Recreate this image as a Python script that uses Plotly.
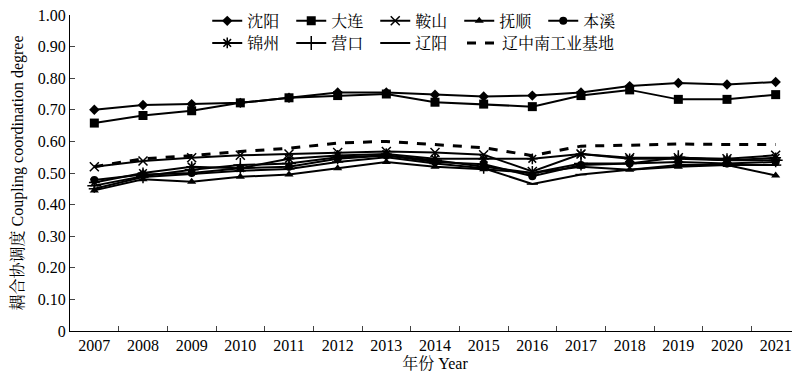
import plotly.graph_objects as go

years = [str(y) for y in range(2007, 2022)]

shenyang = [0.700, 0.715, 0.718, 0.722, 0.738, 0.755, 0.755, 0.748, 0.742, 0.745, 0.755, 0.775, 0.785, 0.780, 0.788]
dalian   = [0.658, 0.682, 0.697, 0.722, 0.738, 0.745, 0.750, 0.724, 0.718, 0.710, 0.745, 0.763, 0.733, 0.733, 0.748]
anshan   = [0.520, 0.538, 0.548, 0.556, 0.560, 0.565, 0.568, 0.565, 0.558, 0.505, 0.560, 0.548, 0.548, 0.545, 0.556]
fushun   = [0.445, 0.480, 0.472, 0.488, 0.495, 0.515, 0.535, 0.520, 0.512, 0.500, 0.520, 0.510, 0.520, 0.525, 0.492]
benxi    = [0.478, 0.495, 0.500, 0.515, 0.520, 0.545, 0.555, 0.535, 0.528, 0.490, 0.525, 0.530, 0.535, 0.530, 0.535]
jinzhou  = [0.470, 0.500, 0.520, 0.515, 0.545, 0.555, 0.560, 0.545, 0.545, 0.545, 0.560, 0.545, 0.545, 0.540, 0.548]
yingkou  = [0.460, 0.490, 0.510, 0.525, 0.530, 0.550, 0.555, 0.540, 0.520, 0.500, 0.530, 0.530, 0.550, 0.540, 0.540]
liaoyang = [0.450, 0.487, 0.497, 0.507, 0.513, 0.535, 0.550, 0.530, 0.515, 0.465, 0.495, 0.510, 0.525, 0.525, 0.525]
region   = [0.520, 0.545, 0.555, 0.568, 0.578, 0.595, 0.600, 0.590, 0.580, 0.555, 0.585, 0.588, 0.592, 0.590, 0.590]

ytickvals = [0, 0.1, 0.2, 0.3, 0.4, 0.5, 0.6, 0.7, 0.8, 0.9, 1.0]
yticktext = ["0", "0.10", "0.20", "0.30", "0.40", "0.50", "0.60", "0.70", "0.80", "0.90", "1.00"]

FONT = "Liberation Serif, Times New Roman, Noto Serif CJK SC, Noto Sans CJK SC, serif"

series = [
    ("沈阳", shenyang, dict(symbol="diamond", size=8, color="black"), "solid", "legend"),
    ("大连", dalian, dict(symbol="square", size=9, color="black"), "solid", "legend"),
    ("鞍山", anshan, dict(symbol="x-thin", size=9, color="black", line=dict(width=1.5, color="black")), "solid", "legend"),
    ("抚顺", fushun, dict(symbol="triangle-up", size=8, color="black"), "solid", "legend"),
    ("本溪", benxi, dict(symbol="circle", size=8, color="black"), "solid", "legend"),
    ("锦州", jinzhou, dict(symbol="asterisk", size=9, color="black", line=dict(width=1.5, color="black")), "solid", "legend2"),
    ("营口", yingkou, dict(symbol="cross-thin", size=10, color="black", line=dict(width=1.5, color="black")), "solid", "legend2"),
    ("辽阳", liaoyang, dict(symbol="line-ew", size=8, color="black", line=dict(width=1.5, color="black")), "solid", "legend2"),
    ("辽中南工业基地", region, dict(symbol="circle", size=1, color="black", opacity=0), "dash", "legend3"),
]

fig = go.Figure()
for name, vals, mk, dash, lg in series:
    mode = "lines" if dash == "dash" else "lines+markers"
    fig.add_trace(go.Scatter(
        x=years, y=vals, name=name, mode=mode,
        line=dict(color="black", width=2 if dash == "solid" else 3, dash="dash" if dash == "dash" else "solid"),
        marker=mk, legend=lg,
    ))

leg_common = dict(orientation="h", xanchor="left", yanchor="top", font=dict(size=16),
                  entrywidth=39, itemwidth=30, bgcolor="rgba(0,0,0,0)")

fig.update_layout(
    width=800, height=374,
    margin=dict(l=62, r=8, t=7, b=51, autoexpand=False),
    paper_bgcolor="white", plot_bgcolor="white",
    font=dict(family=FONT, size=16, color="black"),
    legend=dict(x=0.188, y=1.035, **leg_common),
    legend2=dict(x=0.188, y=0.965, **leg_common),
    legend3=dict(x=0.537, y=0.965, **{**leg_common, "entrywidth": 0}),
    xaxis=dict(
        type="category", range=[-0.5, 14.5], tickson="boundaries", ticks="inside", ticklen=5,
        showline=True, linecolor="black", linewidth=1, showgrid=False, zeroline=False,
        tickfont=dict(size=16), automargin=False,
        title=dict(text="年份 Year", font=dict(size=16), standoff=2),
    ),
    yaxis=dict(
        range=[0, 1.0], tickvals=ytickvals, ticktext=yticktext, ticklabeloverflow="allow",
        ticks="inside", ticklen=5, showline=True, linecolor="black", linewidth=1,
        showgrid=False, zeroline=False, tickfont=dict(size=16), automargin=False,
        title=dict(text="耦合协调度 Coupling coordination degree", font=dict(size=16), standoff=10),
    ),
    showlegend=True,
)

fig.write_html("out.html")
